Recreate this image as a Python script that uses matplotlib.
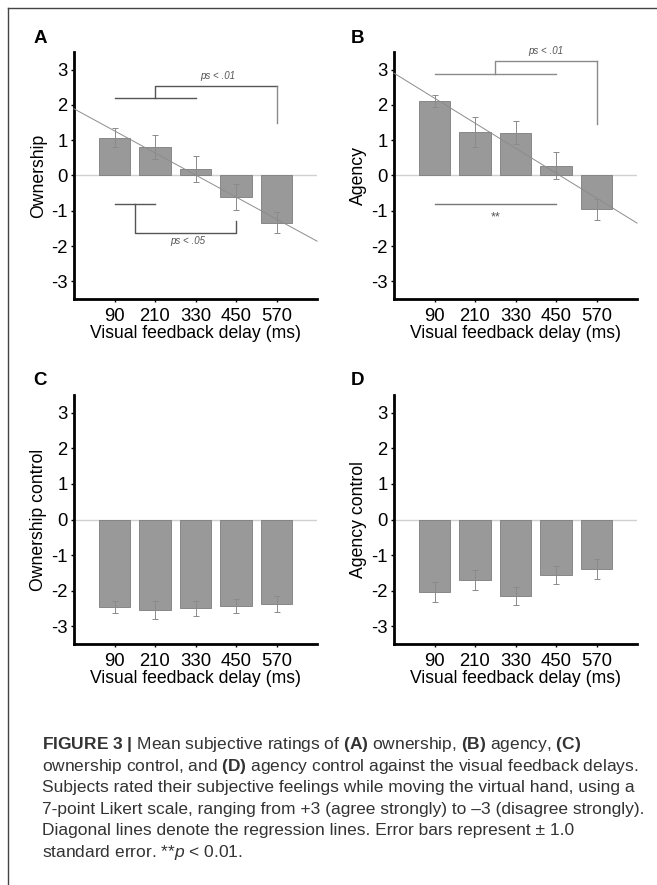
import numpy as np
import matplotlib
matplotlib.use("Agg")
import matplotlib.pyplot as plt
from matplotlib.lines import Line2D

plt.rcParams["font.family"] = ["Liberation Sans", "DejaVu Sans"]
plt.rcParams["mathtext.fontset"] = "custom"
plt.rcParams["mathtext.rm"] = "Liberation Sans"
plt.rcParams["mathtext.it"] = "Liberation Sans:italic"
plt.rcParams["mathtext.bf"] = "Liberation Sans:bold"

# values
delays = ["90", "210", "330", "450", "570"]
ownership = [1.07, 0.81, 0.19, -0.60, -1.34]
ownership_se = [0.27, 0.35, 0.37, 0.37, 0.30]
agency = [2.11, 1.24, 1.21, 0.28, -0.96]
agency_se = [0.18, 0.42, 0.33, 0.38, 0.29]
own_ctrl = [-2.46, -2.55, -2.50, -2.44, -2.38]
own_ctrl_se = [0.18, 0.25, 0.22, 0.20, 0.22]
ag_ctrl = [-2.04, -1.70, -2.15, -1.55, -1.38]
ag_ctrl_se = [0.28, 0.28, 0.26, 0.25, 0.28]
# regression lines: (value at x=0, slope per category step)
own_fit = (1.89, -0.625)
ag_fit = (2.90, -0.708)

caption = [
    r"$\mathbf{FIGURE\ 3\ |}$ Mean subjective ratings of $\mathbf{(A)}$ ownership, $\mathbf{(B)}$ agency, $\mathbf{(C)}$",
    r"ownership control, and $\mathbf{(D)}$ agency control against the visual feedback delays.",
    "Subjects rated their subjective feelings while moving the virtual hand, using a",
    "7-point Likert scale, ranging from +3 (agree strongly) to \u20133 (disagree strongly).",
    "Diagonal lines denote the regression lines. Error bars represent \u00b1 1.0",
    r"standard error. **$\mathit{p}$ < 0.01.",
]

W, H = 657, 885
fig = plt.figure(figsize=(W / 100, H / 100), dpi=100)


def px(x, y, w, h):
    # pixel box (left, top, width, height) -> figure fraction rect
    return [x / W, 1 - (y + h) / H, w / W, h / H]


def panel(ax, vals, errs, ylabel, fit=None):
    x = np.arange(1, len(vals) + 1)
    ax.axhline(0, color="#d0d0d0", lw=1.0, zorder=1)
    ax.bar(x, vals, width=0.78, color="#999999", edgecolor="#7d7d7d",
           lw=0.6, zorder=2)
    ax.errorbar(x, vals, yerr=errs, fmt="none", ecolor="#8a8a8a",
                elinewidth=0.7, capsize=2, capthick=0.7, zorder=3)
    if fit is not None:
        xx = np.array([0, 6])
        ax.plot(xx, fit[0] + fit[1] * xx, color="#8c8c8c", lw=0.7, zorder=4,
                clip_on=False)
    ax.set_xlim(0, 6)
    ax.set_ylim(-3.5, 3.5)
    ax.set_xticks(x)
    ax.set_xticklabels(delays)
    ax.set_yticks([-3, -2, -1, 0, 1, 2, 3])
    ax.set_yticklabels(["-3", "-2", "-1", "0", "1", "2", "3"])
    ax.tick_params(labelsize=13.3, length=2.5, width=1)
    ax.tick_params(axis="x", pad=4)
    ax.tick_params(axis="y", pad=2)
    for s in ["top", "right"]:
        ax.spines[s].set_visible(False)
    for s in ["left", "bottom"]:
        ax.spines[s].set_linewidth(2)
    ax.set_ylabel(ylabel, fontsize=12.7, labelpad=3)
    ax.set_xlabel("Visual feedback delay (ms)", fontsize=12.7, labelpad=0)


def bracket(ax, pts, color):
    xs, ys = zip(*pts)
    ax.plot(xs, ys, color=color, lw=1.0, zorder=5, clip_on=False)


axA = fig.add_axes(px(74, 52, 243, 247))
axB = fig.add_axes(px(394, 52, 243, 247))
axC = fig.add_axes(px(74, 395, 243, 249))
axD = fig.add_axes(px(394, 395, 243, 249))

panel(axA, ownership, ownership_se, "Ownership", own_fit)
panel(axB, agency, agency_se, "Agency", ag_fit)
panel(axC, own_ctrl, own_ctrl_se, "Ownership control")
panel(axD, ag_ctrl, ag_ctrl_se, "Agency control")

# significance brackets, panel A
bracket(axA, [(1, 2.2), (3, 2.2)], "#555555")
bracket(axA, [(2, 2.2), (2, 2.53), (5, 2.53)], "#555555")
bracket(axA, [(5, 2.53), (5, 1.5)], "#8a8a8a")
axA.text(3.55, 2.68, "ps < .01", fontsize=7, style="italic", color="#555555",
         ha="center", va="bottom")
bracket(axA, [(1, -0.82), (2, -0.82)], "#555555")
bracket(axA, [(1.5, -0.82), (1.5, -1.63), (4, -1.63), (4, -1.3)], "#555555")
axA.text(2.8, -1.72, "ps < .05", fontsize=7, style="italic", color="#555555",
         ha="center", va="top")

# significance brackets, panel B
bracket(axB, [(1, 2.87), (4, 2.87)], "#8a8a8a")
bracket(axB, [(2.5, 2.87), (2.5, 3.24), (5, 3.24)], "#8a8a8a")
bracket(axB, [(5, 3.24), (5, 1.46)], "#8a8a8a")
axB.text(3.75, 3.38, "ps < .01", fontsize=7, style="italic", color="#555555",
         ha="center", va="bottom")
bracket(axB, [(1, -0.82), (4, -0.82)], "#777777")
axB.text(2.5, -1.2, "**", fontsize=9, color="#555555", ha="center",
         va="center")

# panel letters
for lab, (x, y) in zip("ABCD", [(40, 43), (358, 43), (40, 385), (358, 385)]):
    fig.text(x / W, 1 - y / H, lab, fontsize=13.5, fontweight="bold",
             va="baseline", ha="center")

# caption
for i, line in enumerate(caption):
    fig.text(42 / W, 1 - (749 + 21.6 * i) / H, line, fontsize=12.5,
             color="#333333", va="baseline", ha="left")

# page frame (top and left edges)
fig.add_artist(Line2D([8 / W, 1], [1 - 8 / H, 1 - 8 / H], color="#444444",
                      lw=1.0, transform=fig.transFigure))
fig.add_artist(Line2D([8 / W, 8 / W], [0, 1 - 8 / H], color="#444444",
                      lw=1.0, transform=fig.transFigure))

fig.savefig("out.png", dpi=100)
